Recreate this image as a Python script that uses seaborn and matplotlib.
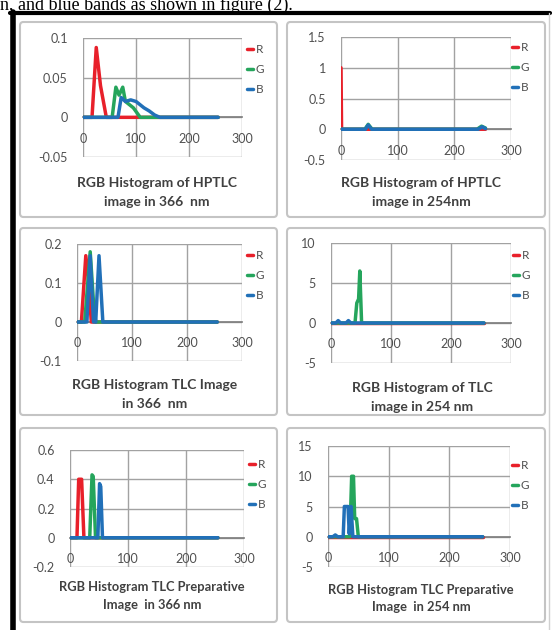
import numpy as np
import pandas as pd
import matplotlib
matplotlib.use("Agg")
import matplotlib.pyplot as plt
import seaborn as sns
from matplotlib.patches import FancyBboxPatch
from matplotlib.lines import Line2D

# ---- data (pixel value vs. frequency) ----
channels = ["R", "G", "B"]
x_ticks = [0, 100, 200, 300]

# HPTLC 366 nm
hptlc366_r_x = [0, 17, 25, 33, 44, 255]
hptlc366_r_y = [0, 0, 0.088, 0.04, 0, 0]
hptlc366_g_x = [0, 55, 62, 68, 75, 80, 95, 108, 255]
hptlc366_g_y = [0, 0, 0.038, 0.028, 0.038, 0.02, 0.012, 0, 0]
hptlc366_b_x = [0, 66, 72, 80, 90, 100, 115, 125, 135, 145, 255]
hptlc366_b_y = [0, 0, 0.025, 0.02, 0.022, 0.02, 0.012, 0.008, 0.003, 0, 0]
hptlc366_yticks = [-0.05, 0, 0.05, 0.1]

# HPTLC 254 nm
hptlc254_r_x = [0, 1, 255]
hptlc254_r_y = [1.0, 0, 0]
hptlc254_g_x = [0, 42, 48, 55, 240, 248, 255]
hptlc254_g_y = [0, 0, 0.08, 0, 0, 0.05, 0.02]
hptlc254_b_x = [0, 43, 48, 54, 242, 249, 255]
hptlc254_b_y = [0, 0, 0.07, 0, 0, 0.04, 0.01]
hptlc254_yticks = [-0.5, 0, 0.5, 1, 1.5]

# TLC 366 nm
tlc366_r_x = [0, 8, 16, 20, 26, 255]
tlc366_r_y = [0, 0, 0.17, 0.12, 0, 0]
tlc366_g_x = [0, 14, 24, 30, 34, 255]
tlc366_g_y = [0, 0, 0.18, 0.05, 0, 0]
tlc366_b_x = [0, 18, 24, 30, 34, 40, 47, 255]
tlc366_b_y = [0, 0, 0.17, 0, 0, 0.17, 0, 0]
tlc366_yticks = [-0.1, 0, 0.1, 0.2]

# TLC 254 nm
tlc254_r_x = [0, 255]
tlc254_r_y = [0, 0]
tlc254_g_x = [0, 40, 43, 46, 48, 51, 255]
tlc254_g_y = [0, 0, 2.5, 3, 6.5, 0, 0]
tlc254_b_x = [0, 8, 12, 16, 25, 29, 33, 255]
tlc254_b_y = [0, 0, 0.3, 0, 0, 0.3, 0, 0]
tlc254_yticks = [-5, 0, 5, 10]

# TLC preparative 366 nm
prep366_r_x = [0, 12, 15, 20, 24, 255]
prep366_r_y = [0, 0, 0.4, 0.4, 0, 0]
prep366_g_x = [0, 34, 38, 40, 44, 255]
prep366_g_y = [0, 0, 0.43, 0.42, 0, 0]
prep366_b_x = [0, 48, 51, 53, 56, 255]
prep366_b_y = [0, 0, 0.37, 0.35, 0, 0]
prep366_yticks = [-0.2, 0, 0.2, 0.4, 0.6]

# TLC preparative 254 nm
prep254_r_x = [0, 255]
prep254_r_y = [0, 0]
prep254_g_x = [0, 36, 39, 42, 44, 47, 50, 255]
prep254_g_y = [0, 0, 10, 10, 3, 3, 0, 0]
prep254_b_x = [0, 8, 12, 16, 25, 27, 33, 35, 38, 41, 255]
prep254_b_y = [0, 0, 0.3, 0, 0, 5, 5, 0.5, 5, 0, 0]
prep254_yticks = [-5, 0, 5, 10, 15]

titles = [
    ("RGB Histogram of HPTLC", "image in 366  nm"),
    ("RGB Histogram of HPTLC", "image in 254nm"),
    ("RGB Histogram TLC Image", "in 366  nm"),
    ("RGB Histogram of TLC", "image in 254 nm"),
    ("RGB Histogram TLC Preparative", "Image  in 366 nm"),
    ("RGB Histogram TLC Preparative", "Image  in 254 nm"),
]

series = [
    (hptlc366_r_x, hptlc366_r_y, hptlc366_g_x, hptlc366_g_y, hptlc366_b_x, hptlc366_b_y, hptlc366_yticks),
    (hptlc254_r_x, hptlc254_r_y, hptlc254_g_x, hptlc254_g_y, hptlc254_b_x, hptlc254_b_y, hptlc254_yticks),
    (tlc366_r_x, tlc366_r_y, tlc366_g_x, tlc366_g_y, tlc366_b_x, tlc366_b_y, tlc366_yticks),
    (tlc254_r_x, tlc254_r_y, tlc254_g_x, tlc254_g_y, tlc254_b_x, tlc254_b_y, tlc254_yticks),
    (prep366_r_x, prep366_r_y, prep366_g_x, prep366_g_y, prep366_b_x, prep366_b_y, prep366_yticks),
    (prep254_r_x, prep254_r_y, prep254_g_x, prep254_g_y, prep254_b_x, prep254_b_y, prep254_yticks),
]

# ---- layout in pixels (left, top, right, bottom) ----
W, H = 554, 630
panel_boxes = [(20, 22, 277, 217), (287, 22, 545, 217),
               (20, 228, 277, 415), (287, 228, 545, 415),
               (20, 428, 277, 622), (287, 428, 545, 622)]
plot_boxes = [(83, 38, 242, 157), (341, 37, 511, 160),
              (77, 244, 242, 361), (331, 243, 511, 363),
              (70, 450, 244, 567), (328, 446, 510, 567)]
legend_pos = [(247, 44), (512, 42), (247, 250), (513, 250), (249, 459), (512, 460)]
title_pos = [(157, 183, 202), (421, 183, 202), (155, 385, 404),
             (422, 388, 407), (152, 587, 605), (421, 590, 607)]
title_size = [10, 10, 10, 10, 9.3, 9.3]

COLORS = {"R": "#e8202a", "G": "#25a55c", "B": "#2170b8"}
TXT = "#505050"

sns.set_theme(style="white")
plt.rcParams["font.family"] = ["Lato", "DejaVu Sans"]
plt.rcParams["axes.unicode_minus"] = False

fig = plt.figure(figsize=(W / 100, H / 100), dpi=100)
fig.patch.set_facecolor("white")


def fx(x):
    return x / W


def fy(y):
    return 1 - y / H


# cut-off line of body text above the figure frame
fig.text(0, fy(9.5), "n, and blue bands as shown in figure (2).", family="Liberation Serif",
         fontsize=13, color="black", ha="left", va="baseline")

# black document frame
fig.add_artist(Line2D([fx(12.5), fx(12.5)], [fy(12), fy(630)], color="black", lw=4, zorder=5))
fig.add_artist(Line2D([fx(10), fx(550)], [fy(13), fy(13)], color="black", lw=3, zorder=5))
fig.add_artist(Line2D([fx(549), fx(549)], [fy(13), fy(630)], color="#d0d0d0", lw=1, zorder=5))

for i, (rx, ry, gx, gy, bx, by, yt) in enumerate(series):
    l, t, r, b = panel_boxes[i]
    fig.add_artist(FancyBboxPatch((fx(l), fy(b)), (r - l) / W, (b - t) / H,
                                  boxstyle="round,pad=0,rounding_size=0.006",
                                  transform=fig.transFigure, facecolor="white",
                                  edgecolor="#c4c4c4", lw=1.5, zorder=-5))

    pl, pt, pr, pb = plot_boxes[i]
    ax = fig.add_axes([fx(pl), fy(pb), (pr - pl) / W, (pb - pt) / H])
    ax.patch.set_alpha(0)

    df = pd.DataFrame({
        "x": rx + gx + bx,
        "y": ry + gy + by,
        "ch": ["R"] * len(rx) + ["G"] * len(gx) + ["B"] * len(bx),
    })
    sns.lineplot(data=df, x="x", y="y", hue="ch", hue_order=channels, palette=COLORS,
                 estimator=None, sort=False, lw=2.5, ax=ax, legend=False)

    ax.set_xlim(0, 300)
    ax.set_ylim(yt[0], yt[-1])
    ax.set_xticks(x_ticks)
    ax.set_yticks(yt)
    ax.set_xticklabels([f"{v:g}" for v in x_ticks])
    ax.set_yticklabels([f"{v:g}" for v in yt])
    ax.set_xlabel("")
    ax.set_ylabel("")
    ax.grid(True, color="#a2a2a2", lw=1.0)
    ax.set_axisbelow(True)
    for s in ["top", "right", "left"]:
        ax.spines[s].set_visible(False)
    ax.spines["bottom"].set_position(("data", 0))
    ax.spines["bottom"].set_color("#808080")
    ax.spines["bottom"].set_zorder(1)
    ax.tick_params(axis="both", length=0, labelsize=9, labelcolor=TXT)
    ax.tick_params(axis="x", pad=11)
    ax.tick_params(axis="y", pad=11)

    handles = [Line2D([], [], color=COLORS[c], lw=2.5) for c in channels]
    lx, ly = legend_pos[i]
    fig.legend(handles, channels, loc="upper left", bbox_to_anchor=(fx(lx), fy(ly)),
               frameon=False, fontsize=8.5, labelcolor=TXT, handlelength=0.55,
               handletextpad=0.2, labelspacing=0.75, borderpad=0, borderaxespad=0)

    cx, y1, y2 = title_pos[i]
    t1, t2 = titles[i]
    fig.text(fx(cx), fy(y1), t1, ha="center", va="center", fontsize=title_size[i],
             weight="bold", color="#404040")
    fig.text(fx(cx), fy(y2), t2, ha="center", va="center", fontsize=title_size[i],
             weight="bold", color="#404040")

fig.savefig("out.png", dpi=100)
